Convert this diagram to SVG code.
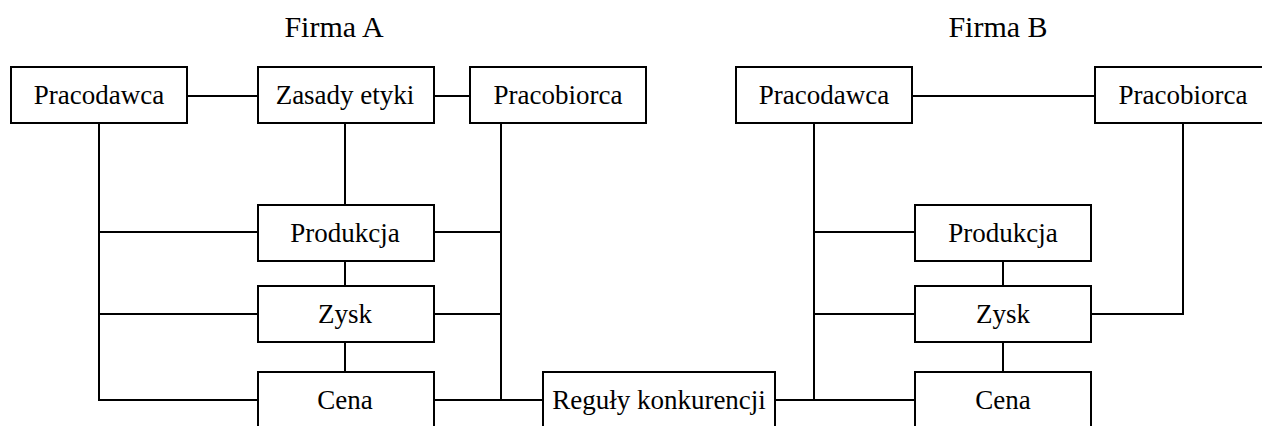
<svg xmlns="http://www.w3.org/2000/svg" width="1262" height="426" viewBox="0 0 1262 426">
<style>
.box{fill:#fff;stroke:#000;stroke-width:2}
.lbl{font-family:"Liberation Serif","Times New Roman",serif;font-size:27px;fill:#000;text-anchor:middle}
.title{font-family:"Liberation Serif","Times New Roman",serif;font-size:30px;fill:#000;text-anchor:middle}
.conn{fill:none;stroke:#000;stroke-width:2}
</style>
<rect width="1262" height="426" fill="#fff"/>
<text class="title" x="334" y="37">Firma A</text>
<text class="title" x="998" y="37">Firma B</text>
<g id="connectors" class="conn">
<path d="M187 96H258M434 96H470"/>
<path d="M99 123V400H258M99 232H258M99 314H258"/>
<path d="M345 123V205M345 261V286M345 342V372"/>
<path d="M501 123V400M434 232H501M434 314H501M434 400H543"/>
<path d="M775 400H915"/>
<path d="M814 123V400M814 232H915M814 314H915"/>
<path d="M912 96H1095"/>
<path d="M1183 123V314H1091"/>
<path d="M1003 261V286M1003 342V372"/>
</g>
<g id="a-pracodawca"><rect class="box" x="11" y="67" width="176" height="56"/><text class="lbl" x="99" y="104">Pracodawca</text></g>
<g id="a-zasady"><rect class="box" x="258" y="67" width="176" height="56"/><text class="lbl" x="345" y="104">Zasady etyki</text></g>
<g id="a-pracobiorca"><rect class="box" x="470" y="67" width="176" height="56"/><text class="lbl" x="558" y="104">Pracobiorca</text></g>
<g id="a-produkcja"><rect class="box" x="258" y="205" width="176" height="56"/><text class="lbl" x="345" y="242">Produkcja</text></g>
<g id="a-zysk"><rect class="box" x="258" y="286" width="176" height="56"/><text class="lbl" x="345" y="323">Zysk</text></g>
<g id="a-cena"><rect class="box" x="258" y="372" width="176" height="56"/><text class="lbl" x="345" y="409">Cena</text></g>
<g id="reguly"><rect class="box" x="543" y="372" width="232" height="56"/><text class="lbl" x="659" y="409">Reguły konkurencji</text></g>
<g id="b-pracodawca"><rect class="box" x="736" y="67" width="176" height="56"/><text class="lbl" x="824" y="104">Pracodawca</text></g>
<g id="b-pracobiorca"><rect class="box" x="1095" y="67" width="176" height="56"/><text class="lbl" x="1183" y="104">Pracobiorca</text></g>
<g id="b-produkcja"><rect class="box" x="915" y="205" width="176" height="56"/><text class="lbl" x="1003" y="242">Produkcja</text></g>
<g id="b-zysk"><rect class="box" x="915" y="286" width="176" height="56"/><text class="lbl" x="1003" y="323">Zysk</text></g>
<g id="b-cena"><rect class="box" x="915" y="372" width="176" height="56"/><text class="lbl" x="1003" y="409">Cena</text></g>
</svg>
